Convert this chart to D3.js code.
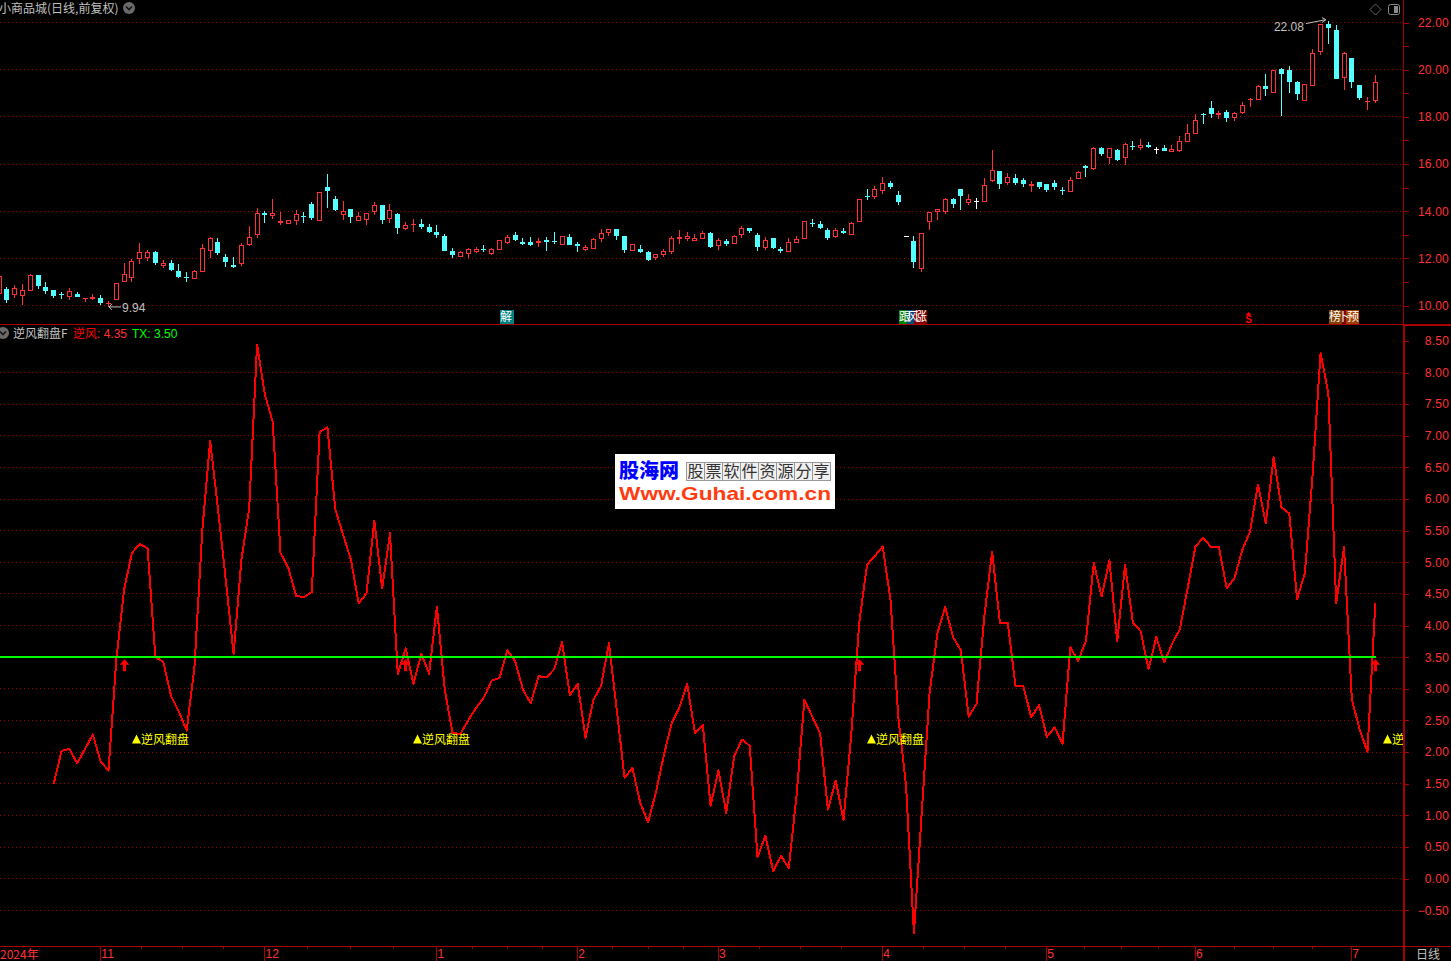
<!DOCTYPE html>
<html lang="zh">
<head>
<meta charset="utf-8">
<title>小商品城 逆风翻盘F</title>
<script src="https://cdn.jsdelivr.net/npm/d3@7/dist/d3.min.js"></script>
<style>
html,body{margin:0;padding:0;background:#000;overflow:hidden}
svg{display:block}
text{font-family:"Liberation Sans","Noto Sans CJK SC",sans-serif}
.cjk{font-family:"Noto Sans CJK SC",sans-serif}
</style>
</head>
<body>
<svg id="c" width="1451" height="961"></svg>
<script>
const highs=[11.25,10.77,10.87,10.91,11.32,11.30,11.00,10.66,10.58,10.75,
10.58,10.32,10.49,10.45,10.19,10.96,11.81,11.98,12.65,12.36,
12.31,11.93,11.93,11.76,11.42,11.51,12.61,12.91,12.87,12.19,
12.06,12.65,13.38,14.14,14.01,14.52,13.97,13.63,14.05,13.97,
14.39,14.82,15.58,14.64,14.44,14.10,13.97,13.91,14.39,14.27,
14.31,13.93,13.54,13.67,13.67,13.46,13.42,13.04,12.44,12.31,
12.44,12.48,12.57,12.44,12.78,12.99,13.12,12.87,12.91,12.87,
12.91,13.12,12.95,13.04,12.70,12.57,12.87,13.25,13.25,13.25,
12.95,12.61,12.57,12.31,12.19,12.40,12.95,13.21,13.12,13.04,
13.16,13.12,12.86,12.82,12.99,13.37,13.29,13.08,12.91,12.86,
12.48,12.86,12.95,13.58,13.67,13.58,13.29,13.29,13.29,13.54,
14.52,14.94,15.07,15.45,15.28,14.85,12.93,12.95,13.08,13.97,
14.09,14.56,14.56,14.94,14.73,14.56,15.41,16.59,15.71,15.62,
15.58,15.41,15.28,15.24,15.15,15.32,15.02,15.44,15.70,15.95,
16.70,16.72,16.67,16.63,16.89,16.97,17.06,16.93,16.72,16.80,
16.80,17.18,17.69,18.12,18.16,18.67,18.24,18.29,18.20,18.62,
18.79,19.35,19.81,19.98,20.07,20.15,19.51,19.39,20.87,21.93,
22.08,21.89,20.75,20.49,19.35,18.84,19.77];
const lows=[10.49,10.12,10.32,10.02,10.63,10.70,10.49,10.32,10.29,10.24,
10.36,10.15,10.25,10.02,9.94,10.25,11.01,11.00,11.76,11.89,
11.72,11.59,11.47,11.17,11.00,11.13,11.44,12.02,12.15,11.64,
11.59,11.68,12.53,12.87,13.50,13.67,13.42,13.46,13.42,13.50,
13.63,13.59,14.14,14.01,13.63,13.50,13.59,13.42,13.84,13.46,
13.50,13.04,13.21,13.12,13.25,13.08,12.87,12.31,12.02,12.06,
12.02,12.23,12.27,12.15,12.36,12.61,12.74,12.57,12.53,12.48,
12.31,12.61,12.57,12.57,12.27,12.31,12.40,12.70,12.95,12.78,
12.23,12.31,12.23,11.89,11.93,12.06,12.19,12.61,12.74,12.74,
12.84,12.44,12.35,12.52,12.61,12.86,13.08,12.31,12.35,12.40,
12.23,12.28,12.67,12.84,13.33,13.25,12.78,12.86,13.03,12.99,
13.56,14.48,14.52,14.73,14.94,14.26,12.93,11.59,11.42,13.20,
13.63,13.88,14.14,14.05,14.26,14.09,14.39,15.24,14.94,15.11,
15.11,15.03,14.81,14.94,14.81,14.89,14.68,14.81,15.36,15.44,
15.74,16.33,16.00,16.12,15.95,16.59,16.59,16.67,16.42,16.55,
16.50,16.50,16.93,17.27,17.69,17.95,17.90,17.78,17.82,18.12,
18.41,18.72,18.88,19.02,18.03,19.01,18.71,18.68,19.30,20.62,
21.09,19.60,19.13,19.22,18.71,18.29,18.58];
const opens=[10.49,10.70,10.45,10.42,10.63,11.30,10.79,10.66,10.47,10.36,
10.49,10.28,10.26,10.32,10.08,10.25,11.01,11.18,11.99,12.03,
12.27,11.68,11.81,11.47,11.22,11.13,11.44,12.33,12.70,12.06,
11.72,11.76,12.57,13.00,13.93,13.81,13.50,13.46,13.57,13.80,
14.31,13.59,15.03,14.52,13.85,14.10,13.59,13.63,13.97,14.27,
13.67,13.88,13.25,13.40,13.46,13.33,13.12,12.95,12.31,12.06,
12.20,12.27,12.40,12.19,12.36,12.65,12.99,12.70,12.70,12.64,
12.78,12.75,12.57,12.91,12.61,12.36,12.40,12.82,13.08,13.25,
12.95,12.31,12.40,12.27,12.02,12.15,12.27,12.84,12.84,12.74,
12.84,13.08,12.52,12.74,12.61,12.99,13.29,12.99,12.44,12.86,
12.40,12.28,12.67,12.84,13.50,13.46,13.20,12.91,13.16,12.99,
13.56,14.65,14.60,14.85,15.20,14.68,12.93,12.74,11.55,13.54,
13.97,13.97,14.52,14.94,14.35,14.41,14.39,15.28,15.71,15.20,
15.41,15.32,15.07,15.24,15.15,15.19,14.89,14.81,15.36,15.91,
15.78,16.67,16.25,16.59,16.25,16.76,16.67,16.80,16.65,16.67,
16.50,16.55,16.93,17.27,18.12,18.37,18.07,18.20,17.95,18.16,
18.71,18.72,19.30,19.02,20.02,19.98,19.47,18.68,19.30,20.75,
21.93,21.68,19.66,20.49,19.35,18.61,18.68];
const closes=[11.25,10.24,10.75,10.66,11.28,10.83,10.62,10.41,10.43,10.62,
10.36,10.32,10.36,10.11,10.12,10.96,11.34,11.89,12.27,12.27,
11.81,11.81,11.51,11.21,11.18,11.47,12.44,12.87,12.23,11.85,
11.64,12.57,12.91,13.93,13.84,13.93,13.57,13.63,13.88,13.76,
13.71,14.82,14.86,14.05,14.01,13.76,13.80,13.91,14.27,13.63,
14.05,13.29,13.42,13.46,13.33,13.12,12.99,12.31,12.15,12.27,
12.40,12.40,12.36,12.40,12.78,12.91,12.78,12.61,12.57,12.74,
12.70,12.70,12.95,12.57,12.53,12.48,12.82,13.08,13.25,12.95,
12.36,12.61,12.27,11.93,12.17,12.31,12.87,12.91,12.95,12.87,
13.08,12.48,12.78,12.61,12.95,13.29,13.16,12.48,12.78,12.44,
12.31,12.69,12.82,13.58,13.46,13.29,12.86,13.20,13.08,13.50,
14.52,14.60,14.94,15.20,15.03,14.39,12.93,11.85,13.08,13.97,
14.09,14.52,14.31,14.65,14.52,14.41,15.11,15.75,15.15,15.45,
15.20,15.15,15.15,15.03,14.90,15.02,14.85,15.32,15.66,15.83,
16.67,16.42,16.67,16.16,16.84,16.72,16.80,16.72,16.65,16.55,
16.63,16.97,17.31,17.86,18.07,18.12,18.16,17.95,18.16,18.50,
18.75,19.30,19.18,19.98,19.81,19.47,18.97,19.39,20.70,21.93,
21.77,19.60,20.70,19.47,18.80,18.67,19.47];
const nifengStart=7;
const nifeng=[1.50,2.02,2.05,1.82,2.05,2.28,1.85,1.71,3.45,
4.57,5.15,5.29,5.22,3.50,3.43,2.89,2.64,2.34,3.35,
5.51,6.92,5.85,4.72,3.55,5.04,5.86,8.44,7.65,7.22,
5.15,4.91,4.47,4.45,4.53,7.06,7.13,5.84,5.44,5.04,
4.35,4.51,5.66,4.59,5.46,3.23,3.64,3.08,3.55,3.24,
4.30,2.99,2.30,2.29,2.50,2.70,2.86,3.13,3.17,3.61,
3.44,2.99,2.77,3.20,3.18,3.31,3.74,2.90,3.08,2.23,
2.82,3.05,3.72,2.67,1.59,1.75,1.20,0.89,1.36,1.94,
2.45,2.70,3.08,2.30,2.43,1.15,1.71,1.04,1.93,2.20,
2.10,0.34,0.68,0.12,0.36,0.17,1.33,2.83,2.56,2.30,
1.09,1.55,0.93,2.30,4.04,4.96,5.10,5.25,4.41,2.56,
1.46,-0.86,1.04,2.93,3.88,4.29,3.82,3.61,2.56,2.76,
4.14,5.17,4.04,4.04,3.04,3.04,2.55,2.74,2.24,2.39,
2.13,3.66,3.44,3.76,4.99,4.46,5.03,3.75,4.96,4.05,
3.91,3.31,3.82,3.42,3.71,3.94,4.59,5.25,5.39,5.24,
5.24,4.59,4.75,5.20,5.49,6.23,5.62,6.66,5.87,5.77,
4.42,4.83,6.41,8.31,7.67,4.35,5.24,2.83,2.36,2.00,
4.35];
const txValue=3.5;
const signalBars=[16,52,110,176];
const monthBars=[13,34,56,74,92,113,134,153,173];
const monthLabels=["11","12","1","2","3","4","5","6","7"];
const priceTicks=[22,21,20,19,18,17,16,15,14,13,12,11,10];
const priceGrid=[22,20,18,16,14,12,10];
const indTicks=[8.5,8,7.5,7,6.5,6,5.5,5,4.5,4,3.5,3,2.5,2,1.5,1,0.5,0,-0.5];
const indGrid=indTicks.slice(1);
const tagGroups=[
 {bar:65,text:"解",off:-7,len:14,cells:[["#008080",14]]},
 {bar:117,text:"跟风涨",off:-14,len:28,cells:[["#008000",8],["#004a80",7],["#800000",13]]},
 {bar:172,text:"榜卜预",off:-15,len:30,cells:[["#804000",13],["#800000",4],["#a04000",13]]}
];

const RED="#ff3232", CYAN="#54ffff", DARK="#a80000", GRID="#a00000";
const svg=d3.select("#c");
const x=d3.scaleLinear().domain([0,176]).range([-1.5,1374.8]);
const yP=d3.scaleLinear().domain([22,10]).range([22.5,305.5]);
const yI=d3.scaleLinear().domain([8,-0.5]).range([372.5,910.3]);
const axisX=1404, plotR=1403;
const snap=v=>Math.round(v)+0.5;

// grid
const grid=svg.append("g").attr("stroke",GRID).attr("stroke-dasharray","1,3").attr("shape-rendering","crispEdges");
grid.selectAll(".gp").data(priceGrid).join("line").attr("class","gp").attr("x1",0).attr("x2",plotR)
  .attr("y1",d=>snap(yP(d)-0.5)).attr("y2",d=>snap(yP(d)-0.5));
grid.selectAll(".gi").data(indGrid).join("line").attr("class","gi").attr("x1",0).attr("x2",plotR)
  .attr("y1",d=>snap(yI(d)-0.5)).attr("y2",d=>snap(yI(d)-0.5));

// frame
const frame=svg.append("g").attr("shape-rendering","crispEdges");
frame.append("rect").attr("x",0).attr("y",324).attr("width",1404).attr("height",1).attr("fill",DARK);
frame.append("rect").attr("x",1404).attr("y",324).attr("width",47).attr("height",2).attr("fill",DARK);
frame.append("rect").attr("x",0).attr("y",946).attr("width",1451).attr("height",1).attr("fill",DARK);
frame.append("rect").attr("x",1403).attr("y",0).attr("width",1).attr("height",325).attr("fill",DARK);
frame.append("rect").attr("x",1403).attr("y",325).attr("width",2).attr("height",636).attr("fill",DARK);

// candles
const bars=d3.range(highs.length).map(i=>({i,h:highs[i],l:lows[i],o:opens[i],c:closes[i]}));
const colorOf=d=>d.c>d.o?RED:d.c<d.o?CYAN:"#ffffff";
const cg=svg.append("g").attr("shape-rendering","crispEdges");
cg.selectAll("g").data(bars).join("g").each(function(d){
  const g=d3.select(this), col=colorOf(d), X=Math.round(x(d.i));
  const top=Math.round(yP(Math.max(d.o,d.c))), bot=Math.round(yP(Math.min(d.o,d.c)));
  g.append("rect").attr("x",X).attr("width",1).attr("y",Math.round(yP(d.h))).attr("height",Math.max(0,top-Math.round(yP(d.h)))).attr("fill",col);
  g.append("rect").attr("x",X).attr("width",1).attr("y",bot).attr("height",Math.max(0,Math.round(yP(d.l))-bot)).attr("fill",col);
  if(d.c>d.o && bot-top>=2){
    g.append("rect").attr("x",X-2+0.5).attr("width",4).attr("y",top+0.5).attr("height",bot-top-1)
      .attr("fill","#000").attr("stroke",col).attr("stroke-width",1);
  }else{
    g.append("rect").attr("x",X-2).attr("width",5).attr("y",top).attr("height",Math.max(1,bot-top)).attr("fill",col);
  }
});

// indicator line
const lineGen=d3.line().x(d=>x(d.i)+0.5).y(d=>yI(d.v));
const nfData=nifeng.map((v,k)=>({i:nifengStart+k,v}));
svg.append("path").datum(nfData).attr("d",lineGen).attr("fill","none").attr("stroke","#ff0000").attr("stroke-width",2).attr("stroke-linejoin","round").attr("shape-rendering","crispEdges");

// TX line
svg.append("line").attr("x1",0).attr("x2",x(176)+1).attr("y1",yI(txValue)).attr("y2",yI(txValue))
  .attr("stroke","#00ff00").attr("stroke-width",2).attr("shape-rendering","crispEdges");

// signal arrows & labels
svg.append("clipPath").attr("id","plot").append("rect").attr("x",0).attr("y",0).attr("width",plotR).attr("height",961);
const sig=svg.append("g").attr("clip-path","url(#plot)");
signalBars.forEach(b=>{
  const X=Math.round(x(b)), Y=yI(txValue);
  sig.append("path").attr("d",`M${X+0.5},${Y+2} L${X+5.5},${Y+7.5} L${X+2},${Y+7.5} L${X+2},${Y+14} L${X-1},${Y+14} L${X-1},${Y+7.5} L${X-4.5},${Y+7.5} Z`).attr("fill","#ff0000");
  const lx=X+8, ly=yI(2.2);
  sig.append("path").attr("d",`M${lx+4.5},${ly-5} L${lx+9},${ly+4} L${lx},${ly+4} Z`).attr("fill","#ffff00");
  sig.append("text").attr("class","cjk").attr("x",lx+9).attr("y",ly+5).attr("font-size",12).attr("fill","#ffff00").text("逆风翻盘");
});

// axes
const fmt=d3.format(".2f");
const styleAxis=g=>{
  g.select(".domain").remove();
  g.selectAll("line").attr("stroke",DARK).attr("shape-rendering","crispEdges");
  g.selectAll("text").attr("fill",RED).attr("font-size",12).attr("font-family","Liberation Sans").attr("letter-spacing","0.2px");
};
svg.append("g").attr("transform",`translate(${axisX},0)`)
  .call(d3.axisRight(yP).tickValues(priceTicks).tickSize(5).tickFormat(d=>d%2===0?fmt(d):""))
  .call(styleAxis).selectAll("text").attr("text-anchor","end").attr("x",45);
svg.append("g").attr("transform",`translate(${axisX},0)`)
  .call(d3.axisRight(yI).tickValues(indTicks).tickSize(5).tickFormat(fmt))
  .call(styleAxis).selectAll("text").attr("text-anchor","end").attr("x",45);

// time axis
const minor=[];
monthBars.slice(0,-1).forEach((b,k)=>{const n=monthBars[k+1];[1,2,3].forEach(p=>minor.push(b+(n-b)*p/4));});
svg.append("g").attr("transform","translate(0,946)")
  .call(d3.axisBottom(x).tickValues(minor).tickSize(3).tickFormat(""))
  .call(styleAxis);
svg.append("g").attr("transform","translate(0,946)")
  .call(d3.axisBottom(x).tickValues(monthBars).tickSize(15).tickFormat((d,i)=>monthLabels[i]))
  .call(styleAxis)
  .selectAll("text").attr("text-anchor","start").attr("dx",0.5).attr("y",3).attr("dy","0.71em");
svg.append("text").attr("class","cjk").attr("x",0).attr("y",959).attr("font-size",12).attr("fill",RED).text("2024年");
svg.append("text").attr("class","cjk").attr("x",1416).attr("y",959).attr("font-size",12).attr("fill","#c0c0c0").text("日线");

// headers
const GRAY="#c0c0c0";
svg.append("text").attr("class","cjk").attr("x",-1).attr("y",13).attr("font-size",12).attr("fill",GRAY).text("小商品城(日线,前复权)");
const chevron=(cx,cy)=>{
  svg.append("circle").attr("cx",cx).attr("cy",cy).attr("r",6).attr("fill","#6a6a6a");
  svg.append("path").attr("d",`M${cx-3},${cy-1.5} L${cx},${cy+1.5} L${cx+3},${cy-1.5}`).attr("fill","none").attr("stroke","#151515").attr("stroke-width",1.6);
};
chevron(129,8); chevron(3,333);
svg.append("text").attr("class","cjk").attr("x",13).attr("y",338).attr("font-size",12).attr("fill",GRAY).text("逆风翻盘F");
svg.append("text").attr("class","cjk").attr("x",73).attr("y",338).attr("font-size",12).attr("fill","#ff0000").text("逆风");
svg.append("text").attr("x",97).attr("y",338).attr("font-size",12).attr("fill",RED).text(": "+fmt(nifeng[nifeng.length-1]));
svg.append("text").attr("x",132).attr("y",338).attr("font-size",12).attr("fill","#00ff00").text("TX: "+fmt(txValue));

// top-right icons
svg.append("path").attr("d","M1375.5,4 L1381,9.5 L1375.5,15 L1370,9.5 Z").attr("fill","none").attr("stroke","#666");
svg.append("rect").attr("x",1388.5).attr("y",4.5).attr("width",11).attr("height",10).attr("rx",2).attr("fill","none").attr("stroke","#8a8a8a");
svg.append("rect").attr("x",1394).attr("y",6).attr("width",4).attr("height",7).attr("fill","#8a8a8a");

// high / low callouts
const iHigh=highs.indexOf(d3.max(highs)), iLow=lows.indexOf(d3.min(lows));
const note=svg.append("g");
note.append("text").attr("x",x(iHigh)-54).attr("y",yP(22.08)+10).attr("font-size",12).attr("fill",GRAY).text(fmt(highs[iHigh]));
note.append("path").attr("d",`M${x(iHigh)-22},${yP(22.08)+3} L${x(iHigh)-2},${yP(22.08)-1} M${x(iHigh)-6},${yP(22.08)-3} L${x(iHigh)-2},${yP(22.08)-1} L${x(iHigh)-6},${yP(22.08)+2}`).attr("fill","none").attr("stroke",GRAY);
note.append("text").attr("x",x(iLow)+14).attr("y",yP(lows[iLow])+5).attr("font-size",12).attr("fill",GRAY).text(fmt(lows[iLow]));
note.append("path").attr("d",`M${x(iLow)+1},${yP(lows[iLow])} L${x(iLow)+13},${yP(lows[iLow])} M${x(iLow)+4},${yP(lows[iLow])-3} L${x(iLow)+1},${yP(lows[iLow])} L${x(iLow)+4},${yP(lows[iLow])+3}`).attr("fill","none").attr("stroke",GRAY);

// tags
tagGroups.forEach(t=>{
  const X0=Math.round(x(t.bar))+t.off;
  let cx=X0;
  t.cells.forEach(c=>{
    svg.append("rect").attr("x",cx).attr("y",310).attr("width",c[1]).attr("height",14).attr("fill",c[0]);
    cx+=c[1];
  });
  const label=svg.append("text").attr("class","cjk").attr("x",X0).attr("y",321).attr("font-size",12).attr("fill","#fff").text(t.text);
  if(t.text.length>1) label.attr("textLength",t.len).attr("lengthAdjust","spacing");
});
svg.append("text").attr("x",x(160)-1).attr("y",323).attr("text-anchor","middle").attr("font-size",10).attr("font-weight","bold").attr("fill","#ff0000").text("S");
svg.append("path").attr("d",`M${x(160)-4},${315} L${x(160)-1},${312} L${x(160)+2},${315} Z`).attr("fill","#ff0000");

// watermark
const wm=svg.append("g");
wm.append("rect").attr("x",615).attr("y",454).attr("width",220).attr("height",55).attr("fill","#fff");
wm.append("text").attr("class","cjk").attr("x",619).attr("y",478).attr("font-size",20).attr("font-weight","900").attr("fill","#0000ff").text("股海网");
const wmChars=["股","票","软","件","资","源","分","享"];
wmChars.forEach((c,k)=>{
  wm.append("rect").attr("x",686.5+k*18).attr("y",462.5).attr("width",18).attr("height",18).attr("fill","#f0f0f0").attr("stroke","#999");
  wm.append("text").attr("class","cjk").attr("x",695.5+k*18).attr("y",477).attr("text-anchor","middle").attr("font-size",16).attr("fill","#333").text(c);
});
wm.append("text").attr("x",619).attr("y",500).attr("font-size",18.5).attr("font-weight","bold").attr("fill","#ff3c10").attr("textLength",212).attr("lengthAdjust","spacingAndGlyphs").text("Www.Guhai.com.cn");
</script>
</body>
</html>
